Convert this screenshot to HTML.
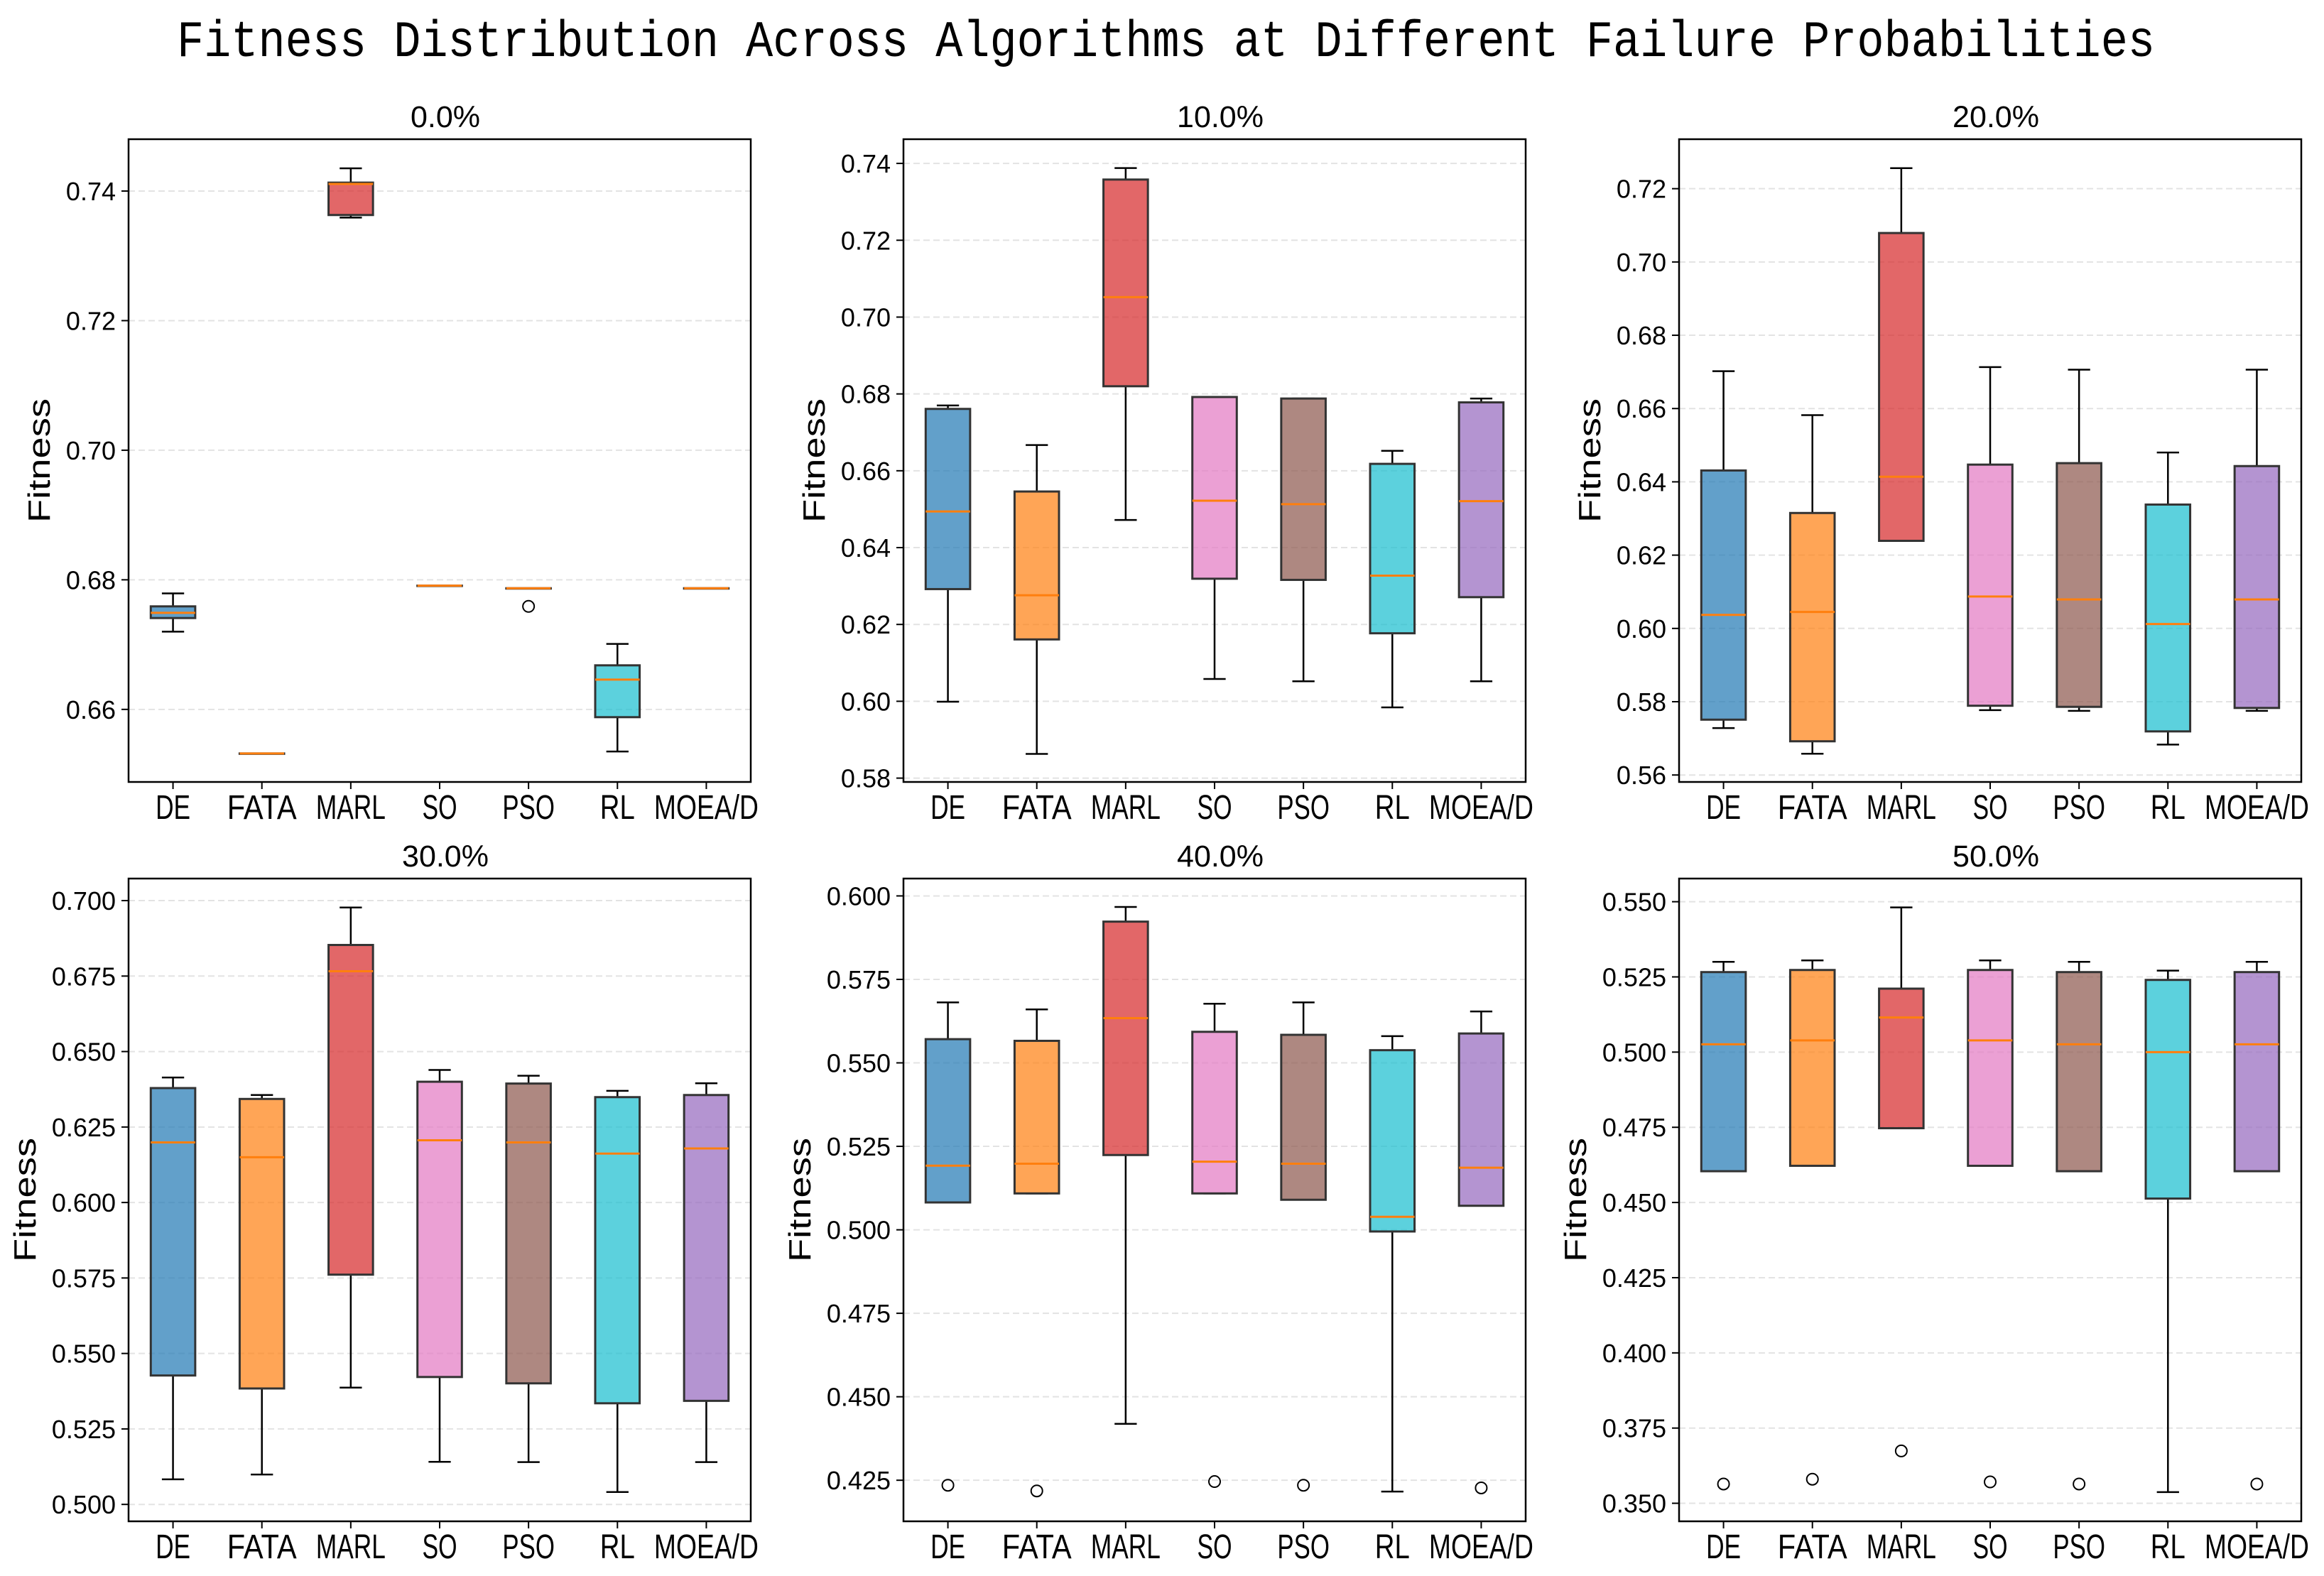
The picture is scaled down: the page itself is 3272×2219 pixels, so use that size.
<!DOCTYPE html>
<html><head><meta charset="utf-8"><style>
html,body{margin:0;padding:0;background:#fff;}
svg{display:block;}
text{font-family:"Liberation Sans","Noto Sans CJK SC",sans-serif;fill:#000;}
</style></head><body>
<svg id="chart" width="3272" height="2219" viewBox="0 0 3272 2219" xmlns="http://www.w3.org/2000/svg">
<text x="249" y="79" font-size="72" textLength="2785" lengthAdjust="spacingAndGlyphs" style="font-family:'Liberation Mono',monospace">Fitness Distribution Across Algorithms at Different Failure Probabilities</text>
</svg>
<script>
const categories = ["DE","FATA","MARL","SO","PSO","RL","MOEA/D"];
const panelTitles = ["0.0%","10.0%","20.0%","30.0%","40.0%","50.0%"];
const yMin = [0.6488,0.579,0.5581,0.4944,0.4127,0.344];
const yMax = [0.748,0.7463,0.7335,0.7073,0.6052,0.5577];
const tickVals0 = [0.66,0.68,0.70,0.72,0.74];
const tickVals1 = [0.58,0.60,0.62,0.64,0.66,0.68,0.70,0.72,0.74];
const tickVals2 = [0.56,0.58,0.60,0.62,0.64,0.66,0.68,0.70,0.72];
const tickVals3 = [0.500,0.525,0.550,0.575,0.600,0.625,0.650,0.675,0.700];
const tickVals4 = [0.425,0.450,0.475,0.500,0.525,0.550,0.575,0.600];
const tickVals5 = [0.350,0.375,0.400,0.425,0.450,0.475,0.500,0.525,0.550];
const tickDigits = [2,2,2,3,3,3];
// p0: 0.0%
const lo0 = [0.6720,0.6532,0.7359,0.6791,0.6787,0.6535,0.6787];
const q1_0 = [0.6741,0.6532,0.7363,0.6791,0.6787,0.6588,0.6787];
const med0 = [0.6749,0.6532,0.7411,0.6791,0.6787,0.6646,0.6787];
const q3_0 = [0.6759,0.6532,0.7413,0.6791,0.6787,0.6668,0.6787];
const hi0 = [0.6779,0.6532,0.7435,0.6791,0.6787,0.6701,0.6787];
const fl0 = [null,null,null,null,0.6759,null,null];
// p1: 10%
const lo1 = [0.5999,0.5863,0.6472,0.6058,0.6052,0.5984,0.6052];
const q1_1 = [0.6292,0.6161,0.6820,0.6319,0.6316,0.6177,0.6271];
const med1 = [0.6494,0.6276,0.7052,0.6522,0.6513,0.6327,0.6521];
const q3_1 = [0.6761,0.6546,0.7358,0.6792,0.6788,0.6618,0.6778];
const hi1 = [0.6770,0.6667,0.7388,0.6792,0.6788,0.6652,0.6788];
const fl1 = [null,null,null,null,null,null,null];
// p2: 20%
const lo2 = [0.5728,0.5658,0.6239,0.5777,0.5775,0.5683,0.5775];
const q1_2 = [0.5751,0.5692,0.6239,0.5789,0.5786,0.5719,0.5783];
const med2 = [0.6037,0.6045,0.6414,0.6087,0.6079,0.6012,0.6079];
const q3_2 = [0.6431,0.6315,0.7079,0.6447,0.6451,0.6338,0.6443];
const hi2 = [0.6702,0.6582,0.7256,0.6713,0.6706,0.6480,0.6706];
const fl2 = [null,null,null,null,null,null,null];
// p3: 30%
const lo3 = [0.5083,0.5099,0.5387,0.5141,0.5140,0.5041,0.5140];
const q1_3 = [0.5427,0.5384,0.5761,0.5422,0.5401,0.5335,0.5343];
const med3 = [0.6199,0.6150,0.6766,0.6206,0.6199,0.6162,0.6179];
const q3_3 = [0.6379,0.6343,0.6853,0.6400,0.6394,0.6349,0.6356];
const hi3 = [0.6414,0.6356,0.6977,0.6439,0.6420,0.6370,0.6395];
const fl3 = [null,null,null,null,null,null,null];
// p4: 40%
const lo4 = [0.5082,0.5109,0.4419,0.5109,0.5090,0.4216,0.5072];
const q1_4 = [0.5082,0.5109,0.5224,0.5109,0.5090,0.4995,0.5072];
const med4 = [0.5192,0.5198,0.5634,0.5204,0.5198,0.5039,0.5186];
const q3_4 = [0.5571,0.5566,0.5923,0.5593,0.5584,0.5538,0.5588];
const hi4 = [0.5681,0.5660,0.5967,0.5677,0.5681,0.5580,0.5654];
const fl4 = [0.4235,0.4218,null,0.4246,0.4235,null,0.4227];
// p5: 50%
const lo5 = [0.4604,0.4622,0.4747,0.4622,0.4604,0.3537,0.4604];
const q1_5 = [0.4604,0.4622,0.4747,0.4622,0.4604,0.4513,0.4604];
const med5 = [0.5026,0.5039,0.5115,0.5039,0.5026,0.5000,0.5026];
const q3_5 = [0.5266,0.5273,0.5211,0.5273,0.5266,0.5240,0.5266];
const hi5 = [0.5300,0.5305,0.5481,0.5305,0.5300,0.5271,0.5300];
const fl5 = [0.3564,0.3580,0.3674,0.3571,0.3564,null,0.3564];

const LOS=[lo0,lo1,lo2,lo3,lo4,lo5], Q1S=[q1_0,q1_1,q1_2,q1_3,q1_4,q1_5], MEDS=[med0,med1,med2,med3,med4,med5],
      Q3S=[q3_0,q3_1,q3_2,q3_3,q3_4,q3_5], HIS=[hi0,hi1,hi2,hi3,hi4,hi5], FLS=[fl0,fl1,fl2,fl3,fl4,fl5],
      TICKS=[tickVals0,tickVals1,tickVals2,tickVals3,tickVals4,tickVals5];
const colors=["#1f77b4","#ff7f0e","#d62728","#e377c2","#8c564b","#17becf","#9467bd"];
const NS="http://www.w3.org/2000/svg";
const svg=document.getElementById('chart');
function mk(tag,attrs,parent){const e=document.createElementNS(NS,tag);for(const k in attrs)e.setAttribute(k,attrs[k]);(parent||svg).appendChild(e);return e;}
const lefts=[181,1272,2364], tops=[196,1237], W=876, H=905;
for(let p=0;p<6;p++){
  const L=lefts[p%3], T=tops[Math.floor(p/3)];
  const g=mk('g',{});
  
  
  const y=v=>T+H-(v-yMin[p])/(yMax[p]-yMin[p])*H;
  const x=i=>L+(i+0.5)*W/7;
  // grid & y ticks
  TICKS[p].forEach(v=>{
    const yy=y(v);
    const gl=mk('line',{x1:L,x2:L+W,y1:yy,y2:yy,stroke:'#e3e3e3','stroke-width':2,'stroke-dasharray':'9,5'},g);
    
    
    mk('line',{x1:L-10,x2:L,y1:yy,y2:yy,stroke:'#000','stroke-width':2},g);
    const t=mk('text',{x:L-18,y:yy+13,'font-size':36,'text-anchor':'end'},g);
    t.textContent=v.toFixed(tickDigits[p]);
    
    
  });
  // boxes
  const bw=W/7*0.5, cw=bw/2;
  categories.forEach((c,i)=>{
    const cx=x(i);
    const bg=mk('g',{},g);
    
    
    mk('line',{x1:cx,x2:cx,y1:y(Q3S[p][i]),y2:y(HIS[p][i]),stroke:'#000','stroke-width':2.5},bg);
    mk('line',{x1:cx,x2:cx,y1:y(Q1S[p][i]),y2:y(LOS[p][i]),stroke:'#000','stroke-width':2.5},bg);
    mk('line',{x1:cx-cw/2,x2:cx+cw/2,y1:y(HIS[p][i]),y2:y(HIS[p][i]),stroke:'#000','stroke-width':2.5},bg);
    mk('line',{x1:cx-cw/2,x2:cx+cw/2,y1:y(LOS[p][i]),y2:y(LOS[p][i]),stroke:'#000','stroke-width':2.5},bg);
    const yt=y(Q3S[p][i]), yb=y(Q1S[p][i]);
    mk('rect',{x:cx-bw/2,y:yt,width:bw,height:Math.max(yb-yt,0.5),fill:colors[i],'fill-opacity':0.7,stroke:'#333','stroke-width':3},bg);
    mk('line',{x1:cx-bw/2,x2:cx+bw/2,y1:y(MEDS[p][i]),y2:y(MEDS[p][i]),stroke:'#ff7f0e','stroke-width':3},bg);
    if(FLS[p][i]!==null){
      const f=mk('circle',{cx:cx,cy:y(FLS[p][i]),r:8,fill:'none',stroke:'#000','stroke-width':2},bg);
      
      
    }
    mk('line',{x1:cx,x2:cx,y1:T+H,y2:T+H+10,stroke:'#000','stroke-width':2},g);
    const xl=mk('text',{x:cx,y:T+H+52,'font-size':48,'text-anchor':'middle',textLength:24.5*c.length,lengthAdjust:'spacingAndGlyphs'},g);
    xl.textContent=c;
    
    
  });
  const fr=mk('rect',{x:L,y:T,width:W,height:H,fill:'none',stroke:'#000','stroke-width':2.5},g);
  
  
  const tt=mk('text',{x:L+W/2+8,y:T-17,'font-size':43,'text-anchor':'middle'},g);
  tt.textContent=panelTitles[p];
  
  
  const lx=L-(p<3?126:146), ly=T+H/2;
  const yl=mk('text',{x:lx,y:ly,'font-size':44,'text-anchor':'middle',transform:`rotate(-90 ${lx} ${ly}) translate(0 15)`,textLength:175,lengthAdjust:'spacingAndGlyphs'},g);
  yl.textContent='Fitness';
  
  
}
</script>
</body></html>
